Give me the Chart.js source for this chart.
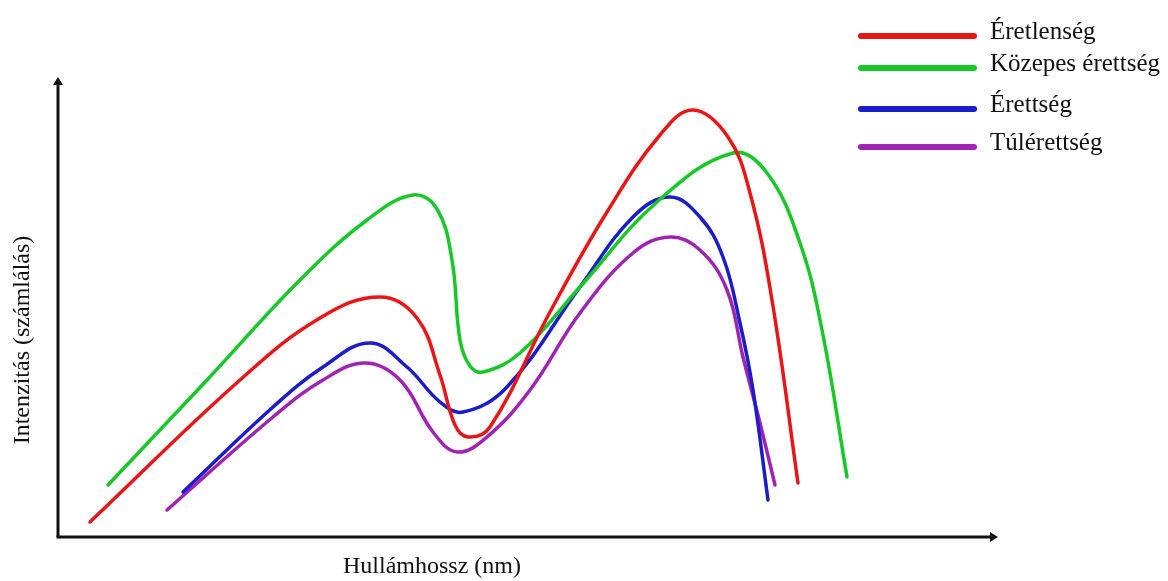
<!DOCTYPE html>
<html><head><meta charset="utf-8">
<script src="https://cdn.jsdelivr.net/npm/chart.js@4/dist/chart.umd.min.js"></script>
<style>html,body{margin:0;padding:0;background:#fff}#wrap{width:1168px;height:581px}</style>
</head><body><div id="wrap"><canvas id="c" width="1168" height="581"></canvas></div>
<script>
const seriesLabels = ["Éretlenség", "Közepes érettség", "Érettség", "Túlérettség"];
const xTitle = "Hullámhossz (nm)";
const yTitle = "Intenzitás (számlálás)";
const redData = [[32,15],[182,157],[262,219],[322,240],[359,219],[382,162],[397,112],[410,100],[432,110],[492,225],[549,325],[602,402],[635,427],[670,400],[692,344],[714,237],[740,54]];
const greenData = [[50,52],[149,157],[242,257],[309,317],[355,342],[379,328],[394,277],[402,197],[412,171],[425,165],[462,184],[522,250],[599,335],[675,384],[709,364],[742,294],[764,207],[789,60]];
const blueData = [[125,45],[215,130],[265,170],[312,194],[349,170],[382,135],[405,125],[449,150],[522,250],[575,320],[612,340],[642,320],[665,280],[682,214],[695,147],[710,37]];
const purpleData = [[109,27],[215,120],[265,157],[307,174],[342,157],[375,105],[399,85],[429,100],[472,147],[522,224],[575,284],[612,300],[642,287],[669,247],[685,180],[702,114],[717,52]];
const colors = ["rgb(232,22,22)", "rgb(24,200,40)", "rgb(28,28,200)", "rgb(160,36,180)"];
const allData = [redData, greenData, blueData, purpleData];

const SERIF = '"Liberation Serif", "Times New Roman", serif';

const deco = {
  id: 'deco',
  afterDraw(chart) {
    const ctx = chart.ctx;
    const a = chart.chartArea;
    ctx.save();
    ctx.strokeStyle = '#111'; ctx.fillStyle = '#111'; ctx.lineWidth = 3;
    ctx.beginPath(); ctx.moveTo(a.left, a.bottom); ctx.lineTo(a.left, a.top + 6); ctx.stroke();
    ctx.beginPath(); ctx.moveTo(a.left - 5, a.top + 8); ctx.lineTo(a.left, a.top); ctx.lineTo(a.left + 5, a.top + 8); ctx.closePath(); ctx.fill();
    ctx.beginPath(); ctx.moveTo(a.left - 1.5, a.bottom); ctx.lineTo(a.right - 6, a.bottom); ctx.stroke();
    ctx.beginPath(); ctx.moveTo(a.right - 8, a.bottom - 5); ctx.lineTo(a.right, a.bottom); ctx.lineTo(a.right - 8, a.bottom + 5); ctx.closePath(); ctx.fill();
    ctx.fillStyle = '#111';
    ctx.font = '24px ' + SERIF;
    ctx.textAlign = 'center'; ctx.textBaseline = 'middle';
    ctx.fillText(xTitle, 432, 567);
    ctx.save(); ctx.translate(23, 340); ctx.rotate(-Math.PI / 2); ctx.fillText(yTitle, 0, 0); ctx.restore();
    const ys = [36, 68, 109, 147];
    ctx.font = '25px ' + SERIF;
    chart.data.datasets.forEach((ds, i) => {
      ctx.strokeStyle = ds.borderColor; ctx.lineWidth = 6; ctx.lineCap = 'round';
      ctx.beginPath(); ctx.moveTo(861, ys[i]); ctx.lineTo(974, ys[i]); ctx.stroke();
      ctx.fillStyle = '#111'; ctx.textAlign = 'left'; ctx.textBaseline = 'middle';
      ctx.fillText(ds.label, 990, ys[i] - 4);
    });
    ctx.restore();
  }
};

new Chart(document.getElementById('c'), {
  type: 'line',
  data: {
    datasets: allData.map((d, i) => ({
      label: seriesLabels[i],
      data: d.map(p => ({x: p[0], y: p[1]})),
      borderColor: colors[i],
      borderWidth: 3.5,
      pointRadius: 0,
      fill: false,
      tension: 0.4,
      clip: false,
      borderCapStyle: 'round',
      borderJoinStyle: 'round'
    }))
  },
  options: {
    responsive: false,
    animation: false,
    devicePixelRatio: 1,
    layout: { padding: { left: 58, right: 170, top: 77, bottom: 44 } },
    plugins: { legend: { display: false }, tooltip: { enabled: false } },
    scales: {
      x: { type: 'linear', min: 0, max: 940, display: false },
      y: { type: 'linear', min: 0, max: 460, display: false }
    }
  },
  plugins: [deco]
});
</script>
</body></html>
